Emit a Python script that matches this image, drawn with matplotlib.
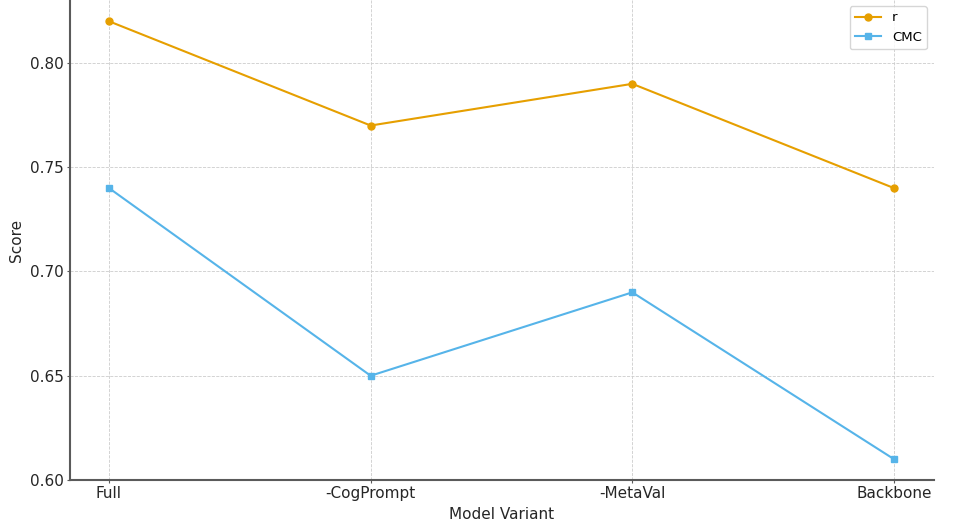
import matplotlib
matplotlib.use("Agg")
import matplotlib.pyplot as plt

variants = ["Full", "-CogPrompt", "-MetaVal", "Backbone"]
r_vals = [0.82, 0.77, 0.79, 0.74]
cmc_vals = [0.74, 0.65, 0.69, 0.61]

fig = plt.figure(figsize=(9.68, 5.26), dpi=100)
ax = fig.add_axes([70/968, 46/526, (934-70)/968, 480/526])

x = list(range(len(variants)))
ax.plot(x, r_vals, color="#E69F00", marker="o", markersize=5, linewidth=1.5, label="r")
ax.plot(x, cmc_vals, color="#56B4E9", marker="s", markersize=5, linewidth=1.5, label="CMC")

ax.set_xticks(x)
ax.set_xticklabels(variants, fontsize=11, color="#262626")
ax.set_yticks([0.60, 0.65, 0.70, 0.75, 0.80])
ax.set_yticklabels(["0.60", "0.65", "0.70", "0.75", "0.80"], fontsize=11, color="#262626")
ax.set_xlim(-0.149, 3.153)
ax.set_ylim(0.60, 0.8302)

ax.set_xlabel("Model Variant", fontsize=11, color="#262626", labelpad=4)
ax.set_ylabel("Score", fontsize=11, color="#262626", labelpad=4)

ax.grid(True, linestyle="--", linewidth=0.6, color="#cccccc")
ax.set_axisbelow(True)
for s in ["top", "right"]:
    ax.spines[s].set_visible(False)
for s in ["left", "bottom"]:
    ax.spines[s].set_color("#5a5a5a")
    ax.spines[s].set_linewidth(1.5)
ax.tick_params(axis="both", length=2.5, width=0.8, color="#5a5a5a", pad=2)

ax.legend(loc="upper right", fontsize=9.5, frameon=True, edgecolor="#cccccc",
          bbox_to_anchor=(0.992, 0.9875), borderaxespad=0)

fig.savefig("out.png", dpi=100)
